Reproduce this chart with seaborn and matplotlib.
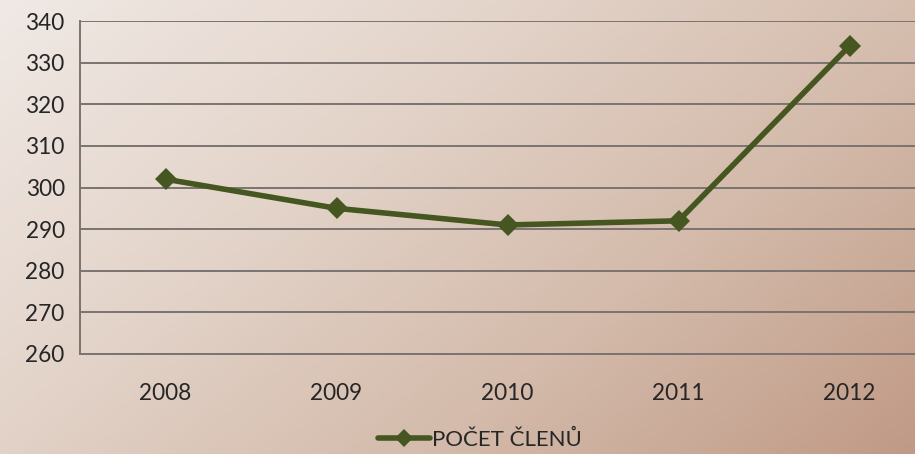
import numpy as np
import pandas as pd
import seaborn as sns
import matplotlib.pyplot as plt
from matplotlib.colors import LinearSegmentedColormap

# Data
years = ["2008", "2009", "2010", "2011", "2012"]
members = [302, 295, 291, 292, 334]
series_name = "POČET ČLENŮ"

df = pd.DataFrame({"rok": years, "pocet": members, "serie": series_name})
df["pos"] = range(len(years))

sns.set_style("white")
plt.rcParams["font.family"] = ["Lato", "DejaVu Sans"]

fig = plt.figure(figsize=(9.15, 4.54), dpi=100)

# Diagonal gradient background
bg = fig.add_axes([0, 0, 1, 1], zorder=0)
gx, gy = np.meshgrid(np.linspace(0, 1, 300), np.linspace(0, 1, 150))
grad = 0.62 * gx + 0.38 * gy
cmap = LinearSegmentedColormap.from_list(
    "bg", ["#f0e9e5", "#e4d5cb", "#d4bbab", "#c09a86"])
bg.imshow(grad, cmap=cmap, aspect="auto", extent=[0, 1, 0, 1], origin="upper")
bg.axis("off")

ax = fig.add_axes([80 / 915, 1 - 354 / 454, 855 / 915, 333 / 454], zorder=1)
ax.patch.set_alpha(0)

sns.lineplot(data=df, x="pos", y="pocet", hue="serie", palette=["#465620"],
             marker="D", markersize=11, markeredgewidth=0, linewidth=4,
             ax=ax, legend=True)

ax.set_xlim(-0.5, len(years) - 0.5)
ax.set_ylim(260, 340)
ax.set_yticks(range(260, 341, 10))
ax.yaxis.grid(True, color="#7a7370", linewidth=1.4)
ax.set_axisbelow(True)

ax.set_xticks(range(len(years)))
ax.set_xticklabels(years)
ax.set_xticks(np.arange(-0.5, len(years), 1), minor=True)
ax.tick_params(axis="x", which="major", length=0, pad=21, labelsize=16.3)
ax.tick_params(axis="x", which="minor", length=7, width=1.4, color="#7a7370",
               direction="out")
ax.tick_params(axis="y", length=7, width=1.4, color="#7a7370", pad=4,
               labelsize=16.3)
ax.set_xlabel("")
ax.set_ylabel("")

for side in ["top", "right"]:
    ax.spines[side].set_visible(False)
for side in ["left", "bottom"]:
    ax.spines[side].set_color("#7a7370")
    ax.spines[side].set_linewidth(1.4)

handles, labels = ax.get_legend_handles_labels()
for h in handles:
    h.set_markersize(9)
ax.legend(handles, labels, loc="center", bbox_to_anchor=(480 / 915, 1 - 440 / 454),
          bbox_transform=fig.transFigure, frameon=False, fontsize=16,
          handlelength=2.3, handletextpad=0.1, borderaxespad=0)

fig.savefig("out.png", dpi=100)
